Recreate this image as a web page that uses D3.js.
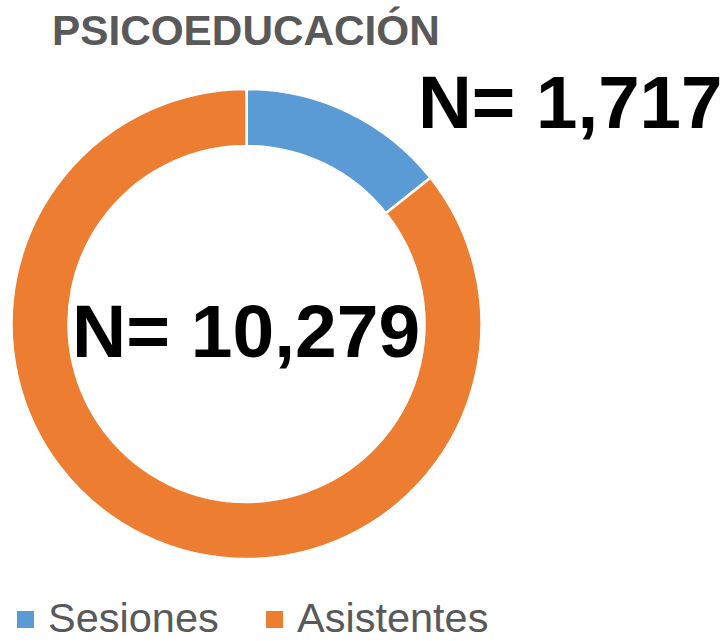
<!DOCTYPE html>
<html>
<head>
<meta charset="utf-8">
<script src="https://cdn.jsdelivr.net/npm/d3@7"></script>
<style>
  html, body { margin: 0; padding: 0; background: #fff; }
  svg { display: block; }
</style>
</head>
<body>
<script>
// Categories and values of the donut
const categories = ["Sesiones", "Asistentes"];
const values = [1717, 10279];
const colors = ["#5B9BD5", "#ED7D31"];
const title = "PSICOEDUCACIÓN";
const labels = ["N= 1,717", "N= 10,279"];

const W = 728, H = 641;
const svg = d3.select("body").append("svg").attr("width", W).attr("height", H);

const cx = 246.5, cy = 324, outerR = 235, innerR = 178;

const pie = d3.pie().sort(null).value(d => d)(values);
const arc = d3.arc().innerRadius(innerR).outerRadius(outerR);
const color = d3.scaleOrdinal().domain(categories).range(colors);

const g = svg.append("g").attr("transform", `translate(${cx},${cy})`);
g.selectAll("path").data(pie).join("path")
  .attr("d", arc)
  .attr("fill", (d, i) => color(categories[i]))
  .attr("stroke", "#fff")
  .attr("stroke-width", 2.5);

const font = "Liberation Sans, Arial, sans-serif";

// Title
svg.append("text")
  .attr("x", 52).attr("y", 45)
  .attr("font-family", font)
  .attr("font-weight", "bold").attr("font-size", 42.3)
  .attr("fill", "#595959")
  .text(title);

// Value labels
svg.append("text")
  .attr("x", 418).attr("y", 128)
  .attr("font-family", font)
  .attr("font-weight", "bold").attr("font-size", 74.5)
  .attr("fill", "#000")
  .text(labels[0]);

svg.append("text")
  .attr("x", 72).attr("y", 357)
  .attr("font-family", font)
  .attr("font-weight", "bold").attr("font-size", 75)
  .attr("fill", "#000")
  .text(labels[1]);

// Legend
const legendX = [17, 266];
const leg = svg.selectAll("g.leg").data(categories).join("g")
  .attr("class", "leg")
  .attr("transform", (d, i) => `translate(${legendX[i]},0)`);
leg.append("rect")
  .attr("x", 0).attr("y", 611).attr("width", 17).attr("height", 17)
  .attr("fill", d => color(d));
leg.append("text")
  .attr("x", 31).attr("y", 632)
  .attr("font-family", font)
  .attr("font-size", 41.5)
  .attr("fill", "#595959")
  .text(d => d);
</script>
</body>
</html>
